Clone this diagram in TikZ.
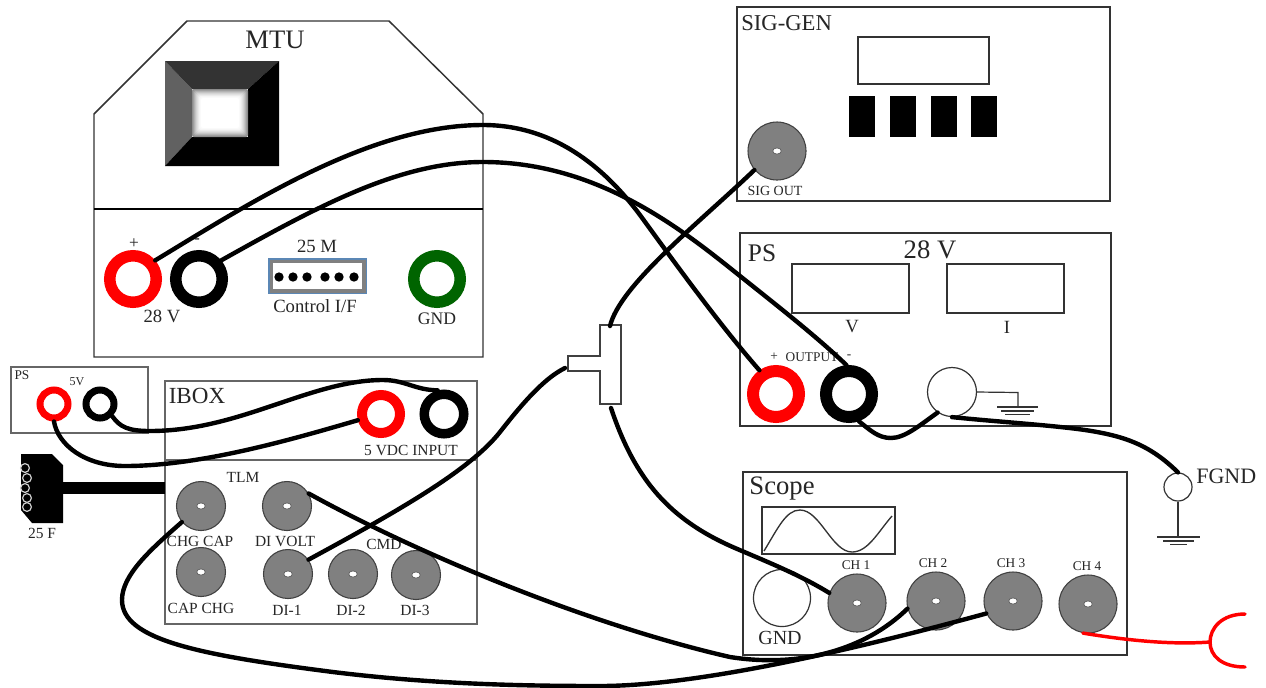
\documentclass[tikz,border=0pt]{standalone}
\usepackage{fontspec}
\setmainfont{Liberation Serif}
\definecolor{termgreen}{HTML}{006400}
\definecolor{edgeblue}{HTML}{5B87B5}
\tikzset{
  t/.style={font=\fontsize{#1}{#1}\selectfont,inner sep=0pt,text=black!85},
  box/.style={draw=black!80,line width=1.1pt,fill=none},
  graybox/.style={draw=black!60,line width=1.4pt,fill=none},
  ring/.style n args={3}{circle,draw=#1,fill=white,inner sep=0pt,line width=(#2-#3)*0.75pt,minimum size=(#2+#3)*0.75pt},
  knob/.style={circle,draw=black!75,line width=0.8pt,fill=black!50,inner sep=0pt,minimum size=2*#1*0.75pt,
    path picture={\filldraw[fill=white,draw=black!65,line width=.5pt] (path picture bounding box.center) ellipse (3.2pt and 2.3pt);}},
  hollow/.style={circle,draw=black!80,line width=.9pt,fill=white,inner sep=0pt,minimum size=2*#1*0.75pt},
  wire/.style={draw=black,line width=3.3pt,line cap=round,line join=round},
  redwire/.style={draw=red,line width=2.6pt,line cap=round},
  gbar/.style={draw=black!80,line width=.9pt},
  pin/.style={circle,draw=black!20,line width=.9pt,fill=black,inner sep=0pt,minimum size=6.6pt},
  dotpin/.style={circle,fill=black,inner sep=0pt,minimum size=7pt},
}
\begin{document}
\begin{tikzpicture}[x=0.75pt,y=-0.75pt]
\path[use as bounding box,fill=white] (0,0) rectangle (1266,687);

% MTU
\draw[box] (94,114) -- (187,21) -- (389,21) -- (483,114) -- (483,357) -- (94,357) -- cycle;
\draw[draw=black,line width=2.2pt] (94,209) -- (483,209);
\node[t=20] (mtulab) at (275,40) {MTU};
\fill[black!62] (165,61) -- (192,89) -- (192,137) -- (165,166) -- cycle;
\fill[black!80] (165,61) -- (279,61) -- (248,89) -- (192,89) -- cycle;
\fill[black] (279,61) -- (279,166) -- (165,166) -- (192,137) -- (248,137) -- (248,89) -- cycle;
\foreach \i/\c in {0/45,1/38,2/30,3/23,4/17,5/12,6/8,7/4,8/2,9/0}
  \fill[black!\c,rounded corners=1.5pt] (192+\i,89+\i) rectangle (248-\i,137-\i);
\node[ring={red}{29}{17.5}] (mtuplus) at (133,279) {};
\node[ring={black}{29}{17.5}] (mtuminus) at (199,279) {};
\node[ring={termgreen}{29}{17.5}] (mtugnd) at (437,279) {};
\node[t=13] (mplus) at (134,244) {+};
\node[t=13] (mminus) at (197,241) {-};
\node[t=14] (m28) at (162,316) {28 V};
\node[t=14] (m25) at (317,246) {25 M};
\node[t=14] (mctl) at (315,306) {Control I/F};
\node[t=13.2] (mgndl) at (437,319) {GND};
\fill[edgeblue] (268,258) rectangle (367,294);
\fill[black!50] (269.5,259.5) rectangle (365.5,292.5);
\fill[white] (273,263) rectangle (362,289);
\foreach \x/\n in {279/a,293/b,307/c,325/d,339/e,354/f} \node[dotpin] (pin\n) at (\x,277) {};

% SIG-GEN
\draw[box] (737,7) rectangle (1110,201);
\node[t=17,anchor=west] (siglab) at (741,23) {SIG-GEN};
\draw[box] (858,37) rectangle (989,84);
\foreach \x in {849,890,931,971} \fill[black] (\x,96) rectangle +(26,41);
\node[knob=29] (sigout) at (777,151) {};
\node[t=10.5] (sigoutl) at (775,191) {SIG OUT};

% PS 28 V
\draw[box] (740,233) rectangle (1111,426);
\node[t=19] (pslab) at (762,253) {PS};
\node[t=20] (ps28) at (930,250) {28 V};
\draw[box] (792,264) rectangle (909,313);
\draw[box] (947,264) rectangle (1064,313);
\node[t=14] (psv) at (852,327) {V};
\node[t=14] (psi) at (1007,327) {I};
\node[t=10] (pso1) at (774,357) {+};
\node[t=10] (pso2) at (812,357) {OUTPUT};
\node[t=10] (pso3) at (849,357) {-};
\node[ring={red}{29}{17}] (psplus) at (776,394) {};
\node[ring={black}{29}{17}] (psminus) at (849,394) {};
\node[hollow=24.5] (psgnd) at (952,392) {};
\coordinate (psg) at (1018,407);
\draw[gbar] (psgnd.east) -- (1018,392.5) -- (psg);
\draw[gbar] (997,407) -- (1038,407) (1001,411) -- (1034,411) (1005,414.5) -- (1030,414.5);

% Scope
\draw[box] (743,472) rectangle (1127,655);
\node[t=20] (scopel) at (782,488) {Scope};
\draw[box] (762,507) rectangle (895,554);
\draw[draw=black!80,line width=1pt] (764,551) .. controls (778,528) and (786,510) .. (800,510) .. controls (820,510) and (832,552) .. (852,552) .. controls (868,552) and (878,532) .. (892,516);
\node[hollow=28.5] (scgnd) at (782,598) {};
\node[t=15] (scgndl) at (780,638) {GND};
\node[knob=29] (ch1) at (857,603) {};
\node[knob=29] (ch2) at (936,601) {};
\node[knob=29] (ch3) at (1013,601) {};
\node[knob=29] (ch4) at (1088,604) {};
\node[t=10] (ch1l) at (856,565) {CH 1};
\node[t=10] (ch2l) at (933,563) {CH 2};
\node[t=10] (ch3l) at (1011,563) {CH 3};
\node[t=10] (ch4l) at (1087,566) {CH 4};

% FGND
\node[hollow=14] (fgnd) at (1178,487) {};
\node[t=16.5,anchor=west] (fgndl) at (1196,476) {FGND};
\coordinate (fg) at (1178,537);
\draw[gbar] (fgnd.south) -- (fg);
\draw[gbar] (1157,537) -- (1200,537) (1163,541) -- (1194,541) (1170,544.5) -- (1187,544.5);

% small PS
\draw[graybox] (11,367) rectangle (148,433);
\node[t=10] (sps) at (22,375) {PS};
\node[t=9] (s5v) at (77,382) {5V};
\node[ring={red}{17.5}{10.5}] (splus) at (54,404) {};
\node[ring={black}{17.5}{10.5}] (sminus) at (100,404) {};

% IBOX
\draw[graybox] (165,381) rectangle (477,624);
\draw[graybox] (165,460) -- (477,460);
\node[t=17.3] (iboxl) at (197,396) {IBOX};
\node[ring={red}{24}{14}] (iplus) at (381,414) {};
\node[ring={black}{24.5}{15}] (iminus) at (444,414) {};
\node[t=11.6] (i5v) at (411,450) {5 VDC INPUT};
\node[t=11.6] (itlm) at (243,477) {TLM};
\node[knob=24.5] (chgcap) at (201,506) {};
\node[knob=24.5] (divolt) at (287,506) {};
\node[knob=24.5] (capchg) at (201,572) {};
\node[knob=24.5] (di1) at (288,574) {};
\node[knob=24.5] (di2) at (353,574) {};
\node[knob=24.5] (di3) at (416,575) {};
\node[t=11.6] (l1) at (200,541) {CHG CAP};
\node[t=11.6] (l2) at (285,541) {DI VOLT};
\node[t=11.6] (l3) at (384,544) {CMD};
\node[t=11.6] (l4) at (201,608) {CAP CHG};
\node[t=11.6] (l5) at (287,610) {DI-1};
\node[t=11.6] (l6) at (351,610) {DI-2};
\node[t=11.6] (l7) at (415,610) {DI-3};

% 25 F connector
\fill[black] (21,454) -- (52,454) -- (63,465) -- (63,523) -- (32,523) -- (21,510) -- cycle;
\fill[black] (63,482) rectangle (165,494);
\node[pin] (p1) at (25,468) {};
\node[pin] (p2) at (27,478) {};
\node[pin] (p3) at (25,488) {};
\node[pin] (p4) at (27,498) {};
\node[pin] (p5) at (27,507) {};
\node[t=11.6] (l25f) at (42,533) {25 F};

% T connector
\draw[draw=black!75,line width=1.7pt,fill=white] (600,325) -- (621,325) -- (621,404) -- (600,404) -- (600,371) -- (568,371) -- (568,356) -- (600,356) -- cycle;
\coordinate (ttop) at (610,326);
\coordinate (tbot) at (611,408);
\coordinate (tside) at (565,368);

% wires
\draw[wire] (mtuplus.40) .. controls (250,203) and (370,125) .. (483,125) .. controls (560,125) and (610,175) .. (640,215) .. controls (680,270) and (720,325) .. (psplus.125);
\draw[wire] (mtuminus.40) .. controls (320,205) and (400,162) .. (483,162) .. controls (590,162) and (670,220) .. (730,268) .. controls (775,304) and (815,335) .. (psminus.95);
\draw[wire] (psminus.-70) .. controls (870,430) and (878,438) .. (891,438) .. controls (905,438) and (920,425) .. (psgnd.-125);
\draw[wire] (psgnd.-90) .. controls (1000,422) and (1050,425) .. (1085,430) .. controls (1125,436) and (1150,445) .. (fgnd.north);
\draw[wire] (sigout.-140) .. controls (700,222) and (620,285) .. (ttop);
\draw[wire] (tbot) .. controls (635,480) and (670,520) .. (735,548) .. controls (770,563) and (800,575) .. (ch1.160);
\draw[wire] (di1.35) .. controls (400,510) and (470,470) .. (500,432) .. controls (525,400) and (545,378) .. (tside);
\draw[wire] (divolt.30) .. controls (420,555) and (590,625) .. (730,657) .. controls (800,668) and (865,650) .. (ch2.195);
\draw[wire] (chgcap.-140) .. controls (150,550) and (122,575) .. (122,600) .. controls (122,640) and (200,655) .. (333,672) .. controls (430,684) and (520,686) .. (600,686) .. controls (700,686) and (860,648) .. (ch3.205);
\draw[wire] (splus.-90) .. controls (58,445) and (85,466) .. (125,466) .. controls (200,466) and (290,440) .. (iplus.195);
\draw[wire] (sminus.-45) .. controls (120,427) and (128,431) .. (150,431) .. controls (240,431) and (310,380) .. (383,380) .. controls (405,380) and (415,390) .. (iminus.105);

% red probe
\coordinate (pr) at (1210,642);
\draw[redwire] (ch4.-100) .. controls (1125,640) and (1170,645) .. (pr);
\draw[redwire] (1245,614) .. controls (1222,614) and (1210,628) .. (pr) .. controls (1210,656) and (1222,667) .. (1245,667);
\end{tikzpicture}
\end{document}
